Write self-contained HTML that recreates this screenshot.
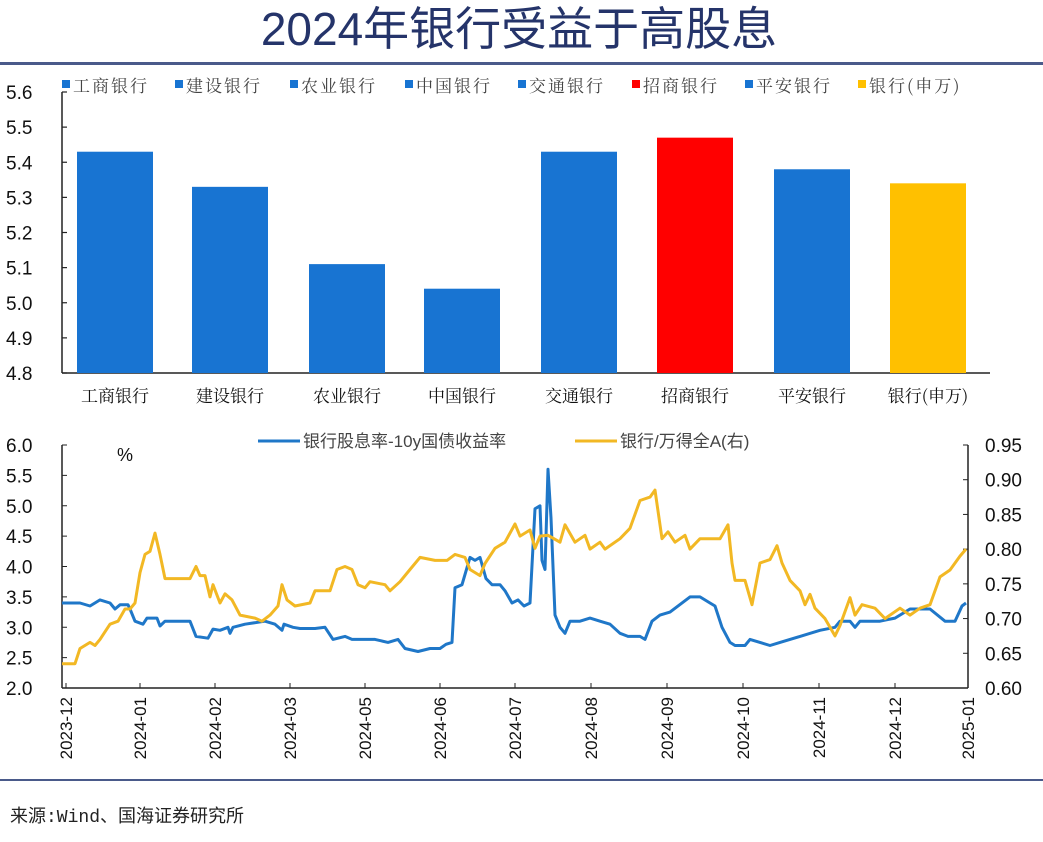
<!DOCTYPE html>
<html><head><meta charset="utf-8"><style>
body{margin:0;background:#fff;width:1043px;height:837px;overflow:hidden;font-family:"Liberation Sans","Noto Sans CJK SC",sans-serif;}
</style></head><body>
<svg id="s" width="1043" height="837" xmlns="http://www.w3.org/2000/svg">
<text x="519" y="45" text-anchor="middle" font-size="46" fill="#25346a" font-family="'Liberation Sans','Noto Sans CJK SC',sans-serif">2024年银行受益于高股息</text>
<rect x="0" y="62" width="1043" height="3" fill="#4a5a8a"/>
<rect x="0" y="779" width="1043" height="2" fill="#4a5a8a"/>
<text x="10" y="822" font-size="18" fill="#222" font-family="'Liberation Mono','Noto Sans CJK SC',monospace">来源:Wind、国海证券研究所</text>
<g id="gtop"></g>
<g id="gbot"></g>
</svg>
<script>
(function(){
const NS="http://www.w3.org/2000/svg";
function el(p,t,a,txt){const e=document.createElementNS(NS,t);for(const k in a)e.setAttribute(k,a[k]);if(txt!==undefined)e.textContent=txt;p.appendChild(e);return e;}
const gTop=document.getElementById('gtop'),gBot=document.getElementById('gbot');
const serif="'Noto Serif CJK SC','Liberation Serif',serif";
const ty=v=>373-(v-4.8)*351.25;
el(gTop,'line',{x1:62,y1:92,x2:62,y2:373,stroke:'#222','stroke-width':1.5});
el(gTop,'line',{x1:62,y1:373,x2:990,y2:373,stroke:'#222','stroke-width':1.5});
for(let i=0;i<=8;i++){const v=4.8+i*0.1,y=ty(v);
 el(gTop,'line',{x1:62,y1:y,x2:67,y2:y,stroke:'#222','stroke-width':1.2});
 el(gTop,'text',{x:6,y:y+7,'font-size':19,fill:'#111'},v.toFixed(1));}
const names=['工商银行','建设银行','农业银行','中国银行','交通银行','招商银行','平安银行','银行(申万)'];
const vals=[5.43,5.33,5.11,5.04,5.43,5.47,5.38,5.34];
const cols=['#1874d2','#1874d2','#1874d2','#1874d2','#1874d2','#ff0000','#1874d2','#ffc000'];
const cx=[115,230,347,462,579,695,812,928];
const lx=[62,175,290,405,518,632,745,858];
for(let i=0;i<8;i++){
 el(gTop,'rect',{x:cx[i]-38,y:ty(vals[i]),width:76,height:373-ty(vals[i]),fill:cols[i]});
 el(gTop,'text',{x:cx[i],y:402,'text-anchor':'middle','font-size':17,fill:'#111','font-family':serif},names[i]);
 el(gTop,'rect',{x:lx[i],y:80,width:8,height:8,fill:cols[i]});
 el(gTop,'text',{x:lx[i]+11,y:92,'font-size':17,fill:'#444','font-family':serif,'letter-spacing':2},names[i]);
}
const by=v=>688-(v-2)*60.75;
el(gBot,'line',{x1:62,y1:445,x2:62,y2:688,stroke:'#222','stroke-width':1.5});
el(gBot,'line',{x1:968,y1:445,x2:968,y2:688,stroke:'#222','stroke-width':1.5});
el(gBot,'line',{x1:62,y1:688,x2:968,y2:688,stroke:'#222','stroke-width':1.5});
for(let i=0;i<=8;i++){const v=2+i*0.5,y=by(v);
 el(gBot,'line',{x1:62,y1:y,x2:67,y2:y,stroke:'#222'});
 el(gBot,'text',{x:6,y:y+7,'font-size':19,fill:'#111'},v.toFixed(1));}
for(let i=0;i<=7;i++){const v=0.6+i*0.05,y=688-(v-0.6)*694.3;
 el(gBot,'line',{x1:963,y1:y,x2:968,y2:y,stroke:'#222'});
 el(gBot,'text',{x:985,y:y+7,'font-size':19,fill:'#111'},v.toFixed(2));}
const tk=[[66,'2023-12'],[140,'2024-01'],[215,'2024-02'],[290,'2024-03'],[365,'2024-05'],[440,'2024-06'],[515,'2024-07'],[591,'2024-08'],[667,'2024-09'],[743,'2024-10'],[819,'2024-11'],[895,'2024-12'],[968,'2025-01']];
tk.forEach(([x,t])=>{el(gBot,'line',{x1:x,y1:683,x2:x,y2:688,stroke:'#222'});
 el(gBot,'text',{x:0,y:0,'font-size':17,fill:'#111','text-anchor':'end',transform:`translate(${x+6},697) rotate(-90)`},t);});
el(gBot,'text',{x:117,y:461,'font-size':18,fill:'#111'},'%');
el(gBot,'line',{x1:258,y1:441,x2:300,y2:441,stroke:'#1f77c8','stroke-width':3});
el(gBot,'text',{x:303,y:447,'font-size':17,fill:'#444'},'银行股息率-10y国债收益率');
el(gBot,'line',{x1:575,y1:441,x2:617,y2:441,stroke:'#f2b824','stroke-width':3});
el(gBot,'text',{x:620,y:447,'font-size':17,fill:'#444'},'银行/万得全A(右)');
const blue=[[62,3.4],[80,3.4],[90,3.35],[100,3.45],[110,3.4],[115,3.3],[120,3.37],[128,3.37],[130,3.3],[135,3.1],[143,3.05],[147,3.15],[157,3.15],[160,3.02],[165,3.1],[190,3.1],[196,2.85],[208,2.82],[213,2.97],[220,2.95],[228,3.0],[230,2.9],[233,3.0],[245,3.05],[265,3.1],[275,3.05],[282,2.95],[284,3.05],[293,3.0],[300,2.98],[315,2.98],[325,3.0],[333,2.8],[345,2.85],[352,2.8],[362,2.8],[375,2.8],[388,2.75],[398,2.8],[405,2.65],[418,2.6],[430,2.65],[440,2.65],[446,2.72],[452,2.75],[455,3.65],[462,3.7],[470,4.15],[475,4.1],[480,4.15],[486,3.8],[492,3.7],[500,3.7],[505,3.6],[512,3.4],[518,3.45],[524,3.35],[530,3.4],[535,4.95],[540,5.0],[542,4.1],[545,3.95],[548,5.6],[551,4.8],[555,3.2],[560,3.0],[565,2.9],[570,3.1],[580,3.1],[590,3.15],[600,3.1],[610,3.05],[620,2.9],[628,2.85],[640,2.85],[645,2.8],[652,3.1],[660,3.2],[670,3.25],[690,3.5],[700,3.5],[710,3.4],[715,3.35],[722,3.0],[730,2.75],[735,2.7],[745,2.7],[750,2.8],[760,2.75],[770,2.7],[780,2.75],[800,2.85],[820,2.95],[835,3.0],[840,3.1],[850,3.1],[855,3.0],[860,3.1],[880,3.1],[895,3.15],[910,3.3],[930,3.3],[945,3.1],[955,3.1],[962,3.35],[966,3.4]];
const yl=[[62,2.4],[75,2.4],[80,2.65],[90,2.75],[95,2.7],[100,2.8],[110,3.05],[118,3.1],[125,3.3],[130,3.3],[135,3.4],[140,3.9],[145,4.2],[150,4.25],[155,4.55],[160,4.2],[165,3.8],[190,3.8],[196,4.0],[200,3.85],[205,3.85],[210,3.5],[213,3.7],[220,3.4],[225,3.55],[232,3.45],[240,3.2],[255,3.15],[262,3.1],[270,3.2],[278,3.35],[282,3.7],[287,3.45],[295,3.35],[310,3.4],[315,3.6],[330,3.6],[337,3.95],[345,4.0],[352,3.95],[358,3.7],[365,3.65],[370,3.75],[385,3.7],[390,3.6],[400,3.75],[410,3.95],[420,4.15],[435,4.1],[447,4.1],[455,4.2],[465,4.15],[470,3.95],[480,3.85],[485,4.05],[495,4.3],[505,4.4],[515,4.7],[520,4.5],[530,4.6],[535,4.3],[540,4.5]];
const yr=[[548,0.82],[560,0.81],[565,0.835],[575,0.81],[585,0.82],[590,0.80],[600,0.81],[605,0.80],[620,0.815],[630,0.83],[640,0.87],[650,0.875],[655,0.885],[662,0.815],[668,0.825],[675,0.81],[685,0.82],[690,0.80],[700,0.815],[720,0.815],[728,0.835],[732,0.78],[735,0.755],[745,0.755],[752,0.72],[760,0.78],[770,0.785],[777,0.805],[782,0.78],[790,0.755],[800,0.74],[805,0.72],[810,0.735],[815,0.715],[825,0.70],[835,0.675],[840,0.69],[850,0.73],[855,0.705],[862,0.72],[875,0.715],[885,0.70],[900,0.715],[910,0.705],[920,0.715],[930,0.72],[940,0.76],[950,0.77],[960,0.79],[966,0.80]];
const yAll=yl.concat(yr.map(([x,r])=>[x,2+(r-0.6)*11.4286]));
const pts=a=>a.map(([x,v])=>x+','+by(v).toFixed(1)).join(' ');
el(gBot,'polyline',{points:pts(blue),fill:'none',stroke:'#1f77c8','stroke-width':3,'stroke-linejoin':'round'});
el(gBot,'polyline',{points:pts(yAll),fill:'none',stroke:'#f2b824','stroke-width':3,'stroke-linejoin':'round'});
})();
</script>
</body></html>
